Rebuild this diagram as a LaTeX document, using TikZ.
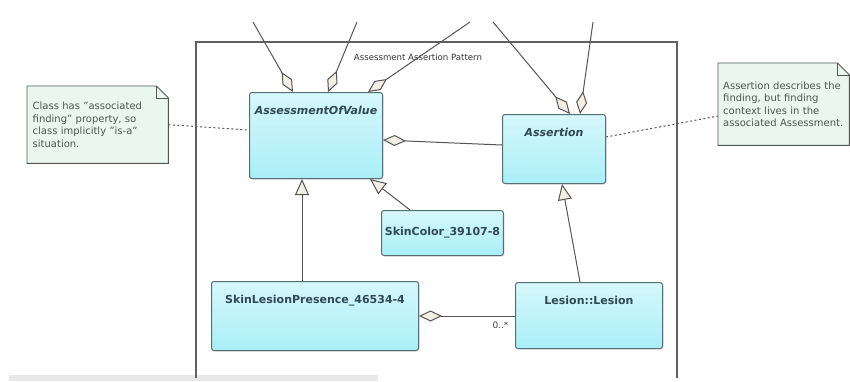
\documentclass[tikz,border=0pt]{standalone}
\usepackage{fontspec}
\setmainfont{DejaVu Sans}
\usetikzlibrary{arrows.meta,shadows,backgrounds,positioning}

\definecolor{classtop}{HTML}{D6F8FB}
\definecolor{classbottom}{HTML}{A9EFF7}
\definecolor{classborder}{HTML}{56707A}
\definecolor{classtext}{HTML}{2F4A52}
\definecolor{notefill}{HTML}{EAF7EE}
\definecolor{notetext}{HTML}{4F5552}
\definecolor{diamondfill}{HTML}{F3EEE4}
\definecolor{linkgray}{HTML}{555555}

\begin{document}
\begin{tikzpicture}[x=1pt, y=-1pt,
    classbox/.style={draw=classborder, line width=1pt, rounded corners=2.5pt,
        top color=classtop, bottom color=classbottom, anchor=north west,
        drop shadow={shadow xshift=1.2pt, shadow yshift=-1.2pt, opacity=0.25}},
    classtitle/.style={font=\bfseries\fontsize{11}{13}\selectfont, text=classtext},
    notebox/.style={anchor=north west, inner xsep=5pt, align=left,
        font=\fontsize{10}{12.6}\selectfont, text=notetext},
    notepaper/.style={fill=notefill, draw=linkgray, line width=0.9pt},
    aggregation/.style={draw=linkgray, line width=1pt,
        -{Diamond[length=23pt, width=11pt, fill=diamondfill]}},
    generalization/.style={draw=linkgray, line width=1pt,
        -{Triangle[length=16pt, width=14pt, fill=diamondfill]}},
    notelink/.style={draw=linkgray, line width=1pt, dash pattern=on 2pt off 2.5pt}
]
    \useasboundingbox (0,0) rectangle (850,381);

    \fill[gray!18] (9,375) rectangle (378,381);

    \draw[gray!75!black, line width=1.3pt] (196,378) -- (196,42) -- (677,42) -- (677,378);
    \node[font=\fontsize{8.6}{10}\selectfont, text=gray!40!black] (pattern label) at (418,57) {Assessment Assertion Pattern};

    \node[classbox, minimum width=133pt, minimum height=86pt] (assessment of value) at (249,92) {};
    \node[classtitle, below=11pt of assessment of value.north, font=\bfseries\itshape\fontsize{11}{13}\selectfont] (assessment of value title) {AssessmentOfValue};

    \node[classbox, minimum width=103pt, minimum height=69pt] (assertion) at (502,114) {};
    \node[classtitle, below=11pt of assertion.north, font=\bfseries\itshape\fontsize{11}{13}\selectfont] (assertion title) {Assertion};

    \node[classbox, classtitle, minimum width=121pt, minimum height=45pt] (skin color) at (381,210) {SkinColor\_39107-8};

    \node[classbox, minimum width=207pt, minimum height=69pt] (skin lesion presence) at (211,281) {};
    \node[classtitle, below=11pt of skin lesion presence.north] (skin lesion presence title) {SkinLesionPresence\_46534-4};

    \node[classbox, minimum width=147pt, minimum height=66pt] (lesion) at (515,282) {};
    \node[classtitle, below=11pt of lesion.north] (lesion title) {Lesion::Lesion};

    \node[notebox, text width=130pt, minimum width=141pt, minimum height=77pt] (class note) at (27,86)
        {Class has "associated\\finding" property, so\\class implicitly "is-a"\\situation.};
    \node[notebox, text width=121pt, minimum width=131pt, minimum height=82pt] (assertion note) at (718,63)
        {Assertion describes the\\finding, but finding\\context lives in the\\associated Assessment.};

    \begin{scope}[on background layer]
        \foreach \n in {class note, assertion note} {
            \draw[notepaper] (\n.south west) -- (\n.north west) -- ([xshift=-12pt]\n.north east)
                -- ([yshift=-12pt]\n.north east) -- (\n.south east) -- cycle;
            \draw[linkgray, line width=0.9pt] ([xshift=-12pt]\n.north east)
                -- ([xshift=-12pt, yshift=-12pt]\n.north east) -- ([yshift=-12pt]\n.north east);
        }
    \end{scope}

    \coordinate (outer one) at (253,22);
    \coordinate (outer two) at (357,22);
    \coordinate (outer three) at (470,22);
    \coordinate (outer four) at (493,22);
    \coordinate (outer five) at (593,22);

    \draw[aggregation] (outer one) -- ([xshift=44pt]assessment of value.north west);
    \draw[aggregation] (outer two) -- ([xshift=79pt]assessment of value.north west);
    \draw[aggregation] (outer three) -- ([xshift=119pt]assessment of value.north west);
    \draw[aggregation] (outer four) -- ([xshift=68pt]assertion.north west);
    \draw[aggregation] (outer five) -- ([xshift=78pt]assertion.north west);

    \draw[aggregation] ([yshift=-31pt]assertion.north west) -- ([yshift=-48pt]assessment of value.north east);
    \draw[aggregation] ([yshift=-34pt]lesion.north west) -- ([yshift=-35pt]skin lesion presence.north east);
    \node[anchor=south east, font=\fontsize{9}{10}\selectfont, text=gray!50!black] (lesion multiplicity)
        at ([xshift=-3pt, yshift=-50pt]lesion.north west) {0..*};

    \draw[generalization] ([xshift=91pt]skin lesion presence.north west) -- ([xshift=53pt]assessment of value.south west);
    \draw[generalization] ([xshift=29pt]skin color.north west) -- ([xshift=121pt]assessment of value.south west);
    \draw[generalization] ([xshift=65pt]lesion.north west) -- ([xshift=60pt]assertion.south west);

    \draw[notelink] (class note.east) -- ([yshift=-38pt]assessment of value.north west);
    \draw[notelink] ([yshift=-23pt]assertion.north east) -- ([yshift=-53pt]assertion note.north west);
\end{tikzpicture}
\end{document}
